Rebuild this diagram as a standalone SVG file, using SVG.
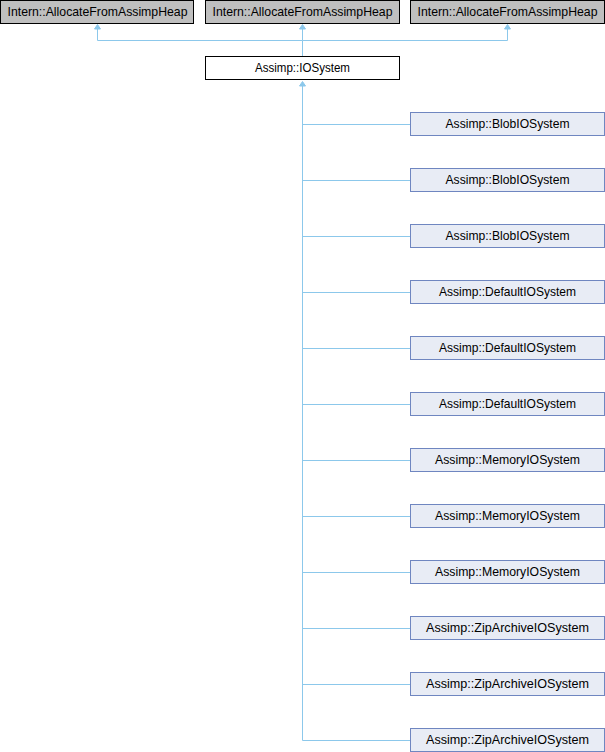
<svg xmlns="http://www.w3.org/2000/svg" width="605" height="752" viewBox="0 0 605 752">
<defs>
<style>
text{font-family:"Liberation Sans",Arial,sans-serif;font-size:13px;text-anchor:middle;fill:#000}
.base rect{fill:#bfbfbf;stroke:#000;stroke-width:1}
.cur rect{fill:#fff;stroke:#000;stroke-width:1}
.der rect{fill:#e8ecf5;stroke:#6f86c0;stroke-width:1}
.edges path{fill:none;stroke:#8cc8eb;stroke-width:1}
.edges polygon{fill:#8cc8eb;stroke:#8cc8eb;stroke-width:1}
</style>
</defs>
<rect width="605" height="752" fill="#fff"/>
<g class="edges" id="connectors">
<path d="M302.5,58V40.5H97.5V29"/>
<path d="M302.5,40.5V29"/>
<path d="M302.5,40.5H507.5V29"/>
<polygon points="97.5,24.5 94.5,29 100.5,29"/>
<polygon points="302.5,24.5 299.5,29 305.5,29"/>
<polygon points="507.5,24.5 504.5,29 510.5,29"/>
<path d="M302.5,86V740.5"/>
<polygon points="302.5,81.5 299.5,86 305.5,86"/>
<path d="M302.5,124.5H410.5M302.5,180.5H410.5M302.5,236.5H410.5M302.5,292.5H410.5M302.5,348.5H410.5M302.5,404.5H410.5M302.5,460.5H410.5M302.5,516.5H410.5M302.5,572.5H410.5M302.5,628.5H410.5M302.5,684.5H410.5M302.5,740.5H410.5"/>
</g>
<g id="base1" class="base"><rect x="0.5" y="0.5" width="193" height="23"/><text x="97.5" y="16" textLength="180" lengthAdjust="spacingAndGlyphs">Intern::AllocateFromAssimpHeap</text></g>
<g id="base2" class="base"><rect x="205.5" y="0.5" width="194" height="23"/><text x="302.5" y="16" textLength="180" lengthAdjust="spacingAndGlyphs">Intern::AllocateFromAssimpHeap</text></g>
<g id="base3" class="base"><rect x="410.5" y="0.5" width="194" height="23"/><text x="507.5" y="16" textLength="180" lengthAdjust="spacingAndGlyphs">Intern::AllocateFromAssimpHeap</text></g>
<g id="iosystem" class="cur"><rect x="205.5" y="56.5" width="194" height="23"/><text x="302.5" y="72" textLength="95" lengthAdjust="spacingAndGlyphs">Assimp::IOSystem</text></g>
<g id="blob1" class="der"><rect x="410.5" y="112.5" width="194" height="23"/><text x="507.5" y="128" textLength="124" lengthAdjust="spacingAndGlyphs">Assimp::BlobIOSystem</text></g>
<g id="blob2" class="der"><rect x="410.5" y="168.5" width="194" height="23"/><text x="507.5" y="184" textLength="124" lengthAdjust="spacingAndGlyphs">Assimp::BlobIOSystem</text></g>
<g id="blob3" class="der"><rect x="410.5" y="224.5" width="194" height="23"/><text x="507.5" y="240" textLength="124" lengthAdjust="spacingAndGlyphs">Assimp::BlobIOSystem</text></g>
<g id="default1" class="der"><rect x="410.5" y="280.5" width="194" height="23"/><text x="507.5" y="296" textLength="137" lengthAdjust="spacingAndGlyphs">Assimp::DefaultIOSystem</text></g>
<g id="default2" class="der"><rect x="410.5" y="336.5" width="194" height="23"/><text x="507.5" y="352" textLength="137" lengthAdjust="spacingAndGlyphs">Assimp::DefaultIOSystem</text></g>
<g id="default3" class="der"><rect x="410.5" y="392.5" width="194" height="23"/><text x="507.5" y="408" textLength="137" lengthAdjust="spacingAndGlyphs">Assimp::DefaultIOSystem</text></g>
<g id="memory1" class="der"><rect x="410.5" y="448.5" width="194" height="23"/><text x="507.5" y="464" textLength="145" lengthAdjust="spacingAndGlyphs">Assimp::MemoryIOSystem</text></g>
<g id="memory2" class="der"><rect x="410.5" y="504.5" width="194" height="23"/><text x="507.5" y="520" textLength="145" lengthAdjust="spacingAndGlyphs">Assimp::MemoryIOSystem</text></g>
<g id="memory3" class="der"><rect x="410.5" y="560.5" width="194" height="23"/><text x="507.5" y="576" textLength="145" lengthAdjust="spacingAndGlyphs">Assimp::MemoryIOSystem</text></g>
<g id="zip1" class="der"><rect x="410.5" y="616.5" width="194" height="23"/><text x="507.5" y="632" textLength="163" lengthAdjust="spacingAndGlyphs">Assimp::ZipArchiveIOSystem</text></g>
<g id="zip2" class="der"><rect x="410.5" y="672.5" width="194" height="23"/><text x="507.5" y="688" textLength="163" lengthAdjust="spacingAndGlyphs">Assimp::ZipArchiveIOSystem</text></g>
<g id="zip3" class="der"><rect x="410.5" y="728.5" width="194" height="23"/><text x="507.5" y="744" textLength="163" lengthAdjust="spacingAndGlyphs">Assimp::ZipArchiveIOSystem</text></g>
</svg>
